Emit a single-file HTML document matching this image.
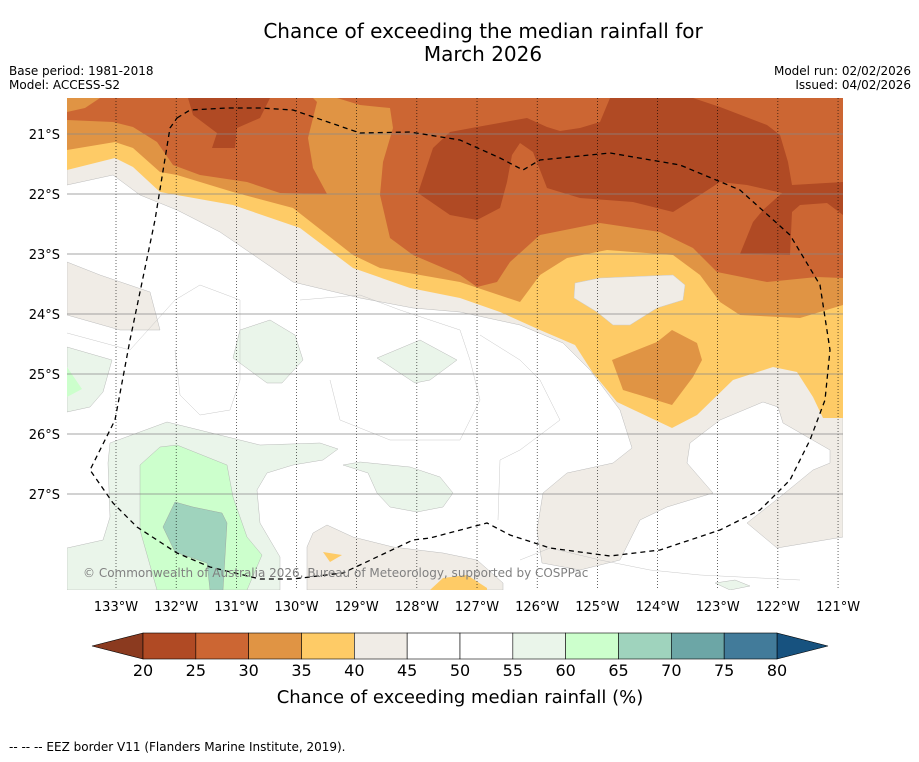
<!DOCTYPE html>
<html><head><meta charset="utf-8"><style>
html,body{margin:0;padding:0;background:#fff;}
body{width:919px;height:758px;overflow:hidden;font-family:"DejaVu Sans",sans-serif;}
</style></head><body>
<svg width="919" height="758" viewBox="0 0 919 758" xmlns="http://www.w3.org/2000/svg" font-family="DejaVu Sans, sans-serif">
<text x="483" y="38" font-size="20" text-anchor="middle">Chance of exceeding the median rainfall for</text>
<text x="483" y="61" font-size="20" text-anchor="middle">March 2026</text>
<text x="9" y="75" font-size="12">Base period: 1981-2018</text>
<text x="9" y="89" font-size="12">Model: ACCESS-S2</text>
<text x="911" y="75" font-size="12" text-anchor="end">Model run: 02/02/2026</text>
<text x="911" y="89" font-size="12" text-anchor="end">Issued: 04/02/2026</text>

<defs><clipPath id="mc"><rect x="67" y="98" width="776" height="492"/></clipPath></defs>
<g clip-path="url(#mc)">
<rect x="67" y="98" width="776" height="492" fill="#fff"/>
<g fill="#f0ece6" stroke="#bbb" stroke-width="0.5">
<path d="M67,98 L843,98 L843,537 L777,548 L747,523 L780,497 L813,470 L830,463 L830,450 L783,423 L778,407 L763,402 L720,420 L690,443 L687,463 L713,493 L667,507 L640,520 L620,560 L580,570 L542,563 L537,530 L543,493 L567,473 L613,463 L632,448 L620,410 L590,370 L563,343 L520,325 L460,312 L413,308 L360,298 L293,282 L220,232 L177,210 L140,195 L113,175 L67,185 Z"/>
<path d="M67,262 L100,275 L150,292 L160,330 L120,330 L67,315 Z"/>
<path d="M307,547 L313,533 L327,525 L353,537 L393,547 L443,553 L477,560 L503,583 L503,590 L307,590 Z"/>
</g>
<path fill="#fecb66" d="M67,98 L843,98 L843,418 L823,418 L813,397 L797,372 L773,367 L733,380 L697,415 L672,428 L617,402 L593,373 L575,345 L540,330 L500,312 L460,298 L410,288 L353,268 L300,228 L233,205 L160,192 L133,167 L115,158 L67,170 Z"/>
<path fill="#f0ece6" stroke="#ccc" stroke-width="0.5" d="M575,283 L600,278 L673,275 L685,285 L683,300 L657,308 L630,325 L613,325 L597,312 L574,298 Z"/>
<path fill="#e09444" d="M67,98 L843,98 L843,305 L800,318 L740,315 L720,302 L700,275 L673,255 L607,250 L567,258 L540,275 L520,302 L460,282 L380,268 L353,255 L293,208 L233,192 L177,175 L160,172 L133,148 L115,142 L67,150 Z"/>
<path fill="#e09444" d="M612,360 L657,342 L672,330 L697,343 L702,360 L693,377 L672,405 L623,390 Z"/>
<path fill="#cc6633" d="M100,98 L313,98 L317,102 L308,138 L313,168 L327,194 L280,193 L247,182 L200,175 L173,165 L157,142 L133,127 L113,122 L67,120 L67,112 L85,108 Z"/>
<path fill="#cc6633" d="M337,98 L843,98 L843,278 L817,277 L767,282 L717,272 L693,248 L660,232 L600,223 L540,235 L510,262 L497,282 L477,287 L460,275 L413,255 L390,238 L380,195 L383,162 L393,128 L390,108 L360,105 Z"/>
<g fill="#b04a24">
<path d="M188,98 L270,98 L260,118 L237,128 L235,148 L212,148 L217,133 L193,115 Z"/>
<path d="M418,193 L433,148 L450,132 L477,127 L527,118 L547,127 L560,131 L580,128 L600,122 L610,98 L693,98 L720,107 L767,125 L780,135 L788,162 L792,185 L843,182 L843,215 L827,203 L800,205 L792,212 L790,255 L740,254 L753,222 L763,210 L782,193 L747,185 L720,182 L700,195 L673,212 L633,202 L580,198 L547,188 L533,152 L520,143 L512,155 L507,182 L500,208 L477,220 L450,215 Z"/>
</g>
<g fill="#eaf5ea" stroke="#aaa" stroke-width="0.4">
<path d="M240,330 L270,320 L295,335 L303,360 L282,383 L267,383 L233,358 Z"/>
<path d="M377,358 L420,340 L457,360 L430,380 L415,383 Z"/>
<path d="M67,347 L112,360 L103,392 L90,407 L67,412 Z"/>
<path d="M67,590 L67,548 L103,540 L110,517 L108,463 L110,443 L167,422 L260,445 L320,443 L338,449 L323,460 L293,465 L267,473 L257,490 L260,523 L280,557 L280,590 Z"/>
<path d="M343,465 L360,462 L410,467 L440,477 L453,493 L443,507 L417,512 L390,507 L377,493 L368,473 Z"/>
<path d="M715,583 L735,580 L750,586 L730,590 Z"/>
</g>
<path fill="#ccffcc" stroke="#aaa" stroke-width="0.4" d="M140,465 L160,447 L177,445 L227,465 L233,497 L247,537 L262,555 L250,583 L247,590 L157,590 L140,530 Z"/>
<path fill="#ccffcc" d="M67,367 L82,389 L67,397 Z"/>
<path fill="#9fd3bd" stroke="#999" stroke-width="0.4" d="M175,502 L193,507 L222,513 L227,523 L223,590 L210,590 L207,563 L175,552 L163,527 Z"/>
<path fill="#fecb66" d="M323,552 L342,555 L330,562 Z"/>
<path fill="#fecb66" d="M430,590 L443,578 L467,575 L487,588 L487,590 Z"/>
<g fill="none" stroke="#bbb" stroke-width="0.4">
<path d="M67,333 L130,350 L175,300 L200,285 L240,300 L240,380 L230,410 L200,415 L180,395 L175,350"/>
<path d="M300,300 L360,295 L400,310 L460,330 L470,360 L480,400 L460,440 L390,440 L340,420 L330,380"/>
<path d="M480,335 L520,360 L540,380 L560,420 L520,450 L500,460 L498,520"/>
<path d="M520,560 L550,548 L600,560 L650,570 L700,575 L800,580"/>
</g>
<g id="grid"></g>
<path fill="none" stroke="#000" stroke-width="1.3" stroke-dasharray="5,4" d="M177,118 L190,110 L227,108 L260,108 L293,110 L360,133 L410,132 L460,140 L500,158 L523,170 L540,160 L610,153 L680,165 L740,190 L790,235 L820,285 L830,350 L825,400 L810,440 L790,480 L760,510 L720,530 L660,550 L610,556 L550,548 L510,535 L487,523 L430,538 L413,540 L343,573 L293,579 L260,579 L210,567 L177,553 L137,527 L113,503 L90,470 L115,420 L130,340 L155,220 L170,128 Z"/>
<text x="83" y="577" font-size="12" fill="#808080">© Commonwealth of Australia 2026, Bureau of Meteorology, supported by COSPPac</text>
</g>
<g id="axes"></g>
<g id="cbar"></g>
<text x="460" y="703" font-size="18" text-anchor="middle">Chance of exceeding median rainfall (%)</text>
<text x="9" y="751" font-size="12">--  --  -- EEZ border V11 (Flanders Marine Institute, 2019).</text>
</svg>
<script>
const lonLabels = ["133°W","132°W","131°W","130°W","129°W","128°W","127°W","126°W","125°W","124°W","123°W","122°W","121°W"];
const latLabels = ["21°S","22°S","23°S","24°S","25°S","26°S","27°S"];
const cbarLevels = [20,25,30,35,40,45,50,55,60,65,70,75,80];
const cbarColors = ["#b04a24","#cc6633","#e09444","#fecb66","#f0ece6","#ffffff","#ffffff","#eaf5ea","#ccffcc","#9fd3bd","#6ca6a6","#427b9a"];
const NS="http://www.w3.org/2000/svg";
function mk(t,a,p){const e=document.createElementNS(NS,t);for(const k in a)e.setAttribute(k,a[k]);p.appendChild(e);return e;}
const lonX=i=>116+i*60.17, latY=i=>134+i*60;
const grid=document.getElementById('grid'), axes=document.getElementById('axes');
lonLabels.forEach((l,i)=>{
  const x=lonX(i);
  const g=mk('line',{x1:x,x2:x,y1:98,y2:590,stroke:'#000','stroke-width':0.6,'stroke-dasharray':'1,2'},grid);
  
  
  const t=mk('text',{x:x,y:611,'font-size':13,'text-anchor':'middle'},axes);t.textContent=l;
  
  
});
latLabels.forEach((l,i)=>{
  const y=latY(i);
  const g=mk('line',{x1:67,x2:843,y1:y,y2:y,stroke:'#888','stroke-width':0.7},grid);
  
  
  const t=mk('text',{x:60,y:y+5,'font-size':13,'text-anchor':'end'},axes);t.textContent=l;
  
  
});
const cb=document.getElementById('cbar');
const cx0=143,cx1=777,cy=633,ch=26;
const cxs=v=>cx0+(v-cbarLevels[0])/(cbarLevels[cbarLevels.length-1]-cbarLevels[0])*(cx1-cx0);
const lt=mk('polygon',{points:`${cx0},${cy} 92,${cy+ch/2} ${cx0},${cy+ch}`,fill:'#8b3a1f',stroke:'#000','stroke-width':0.6},cb);


const rt=mk('polygon',{points:`${cx1},${cy} 828,${cy+ch/2} ${cx1},${cy+ch}`,fill:'#17527f',stroke:'#000','stroke-width':0.6},cb);


cbarColors.forEach((c,i)=>{
  const x=cxs(cbarLevels[i]),w=cxs(cbarLevels[i+1])-x;
  const r=mk('rect',{x:x,y:cy,width:w,height:ch,fill:c,stroke:'#000','stroke-width':0.6},cb);
  
  
});
cbarLevels.forEach(v=>{
  const t=mk('text',{x:cxs(v),y:676,'font-size':16,'text-anchor':'middle'},cb);t.textContent=v;
  
  
});
</script>
</body></html>
